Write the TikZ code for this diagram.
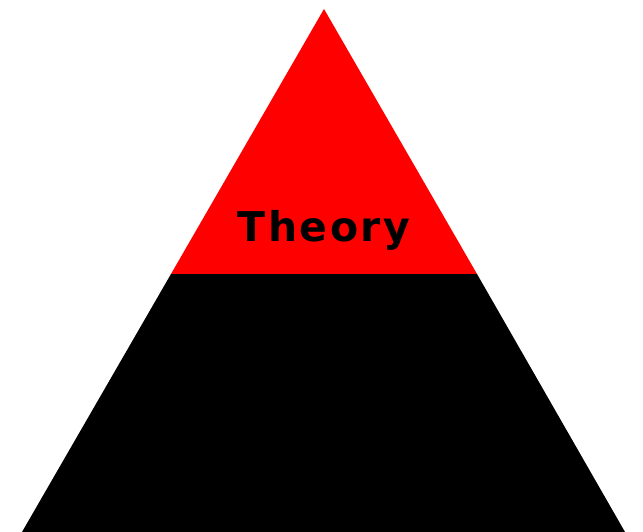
\documentclass[tikz,border=0pt]{standalone}
\usepackage{fontspec}
\newfontfamily\labelfont[LetterSpace=6]{DejaVu Sans}
\begin{document}
\begin{tikzpicture}[x=1pt,y=1pt,
  layer/.style={draw=none},
  lbl/.style={font=\labelfont\bfseries\fontsize{41}{41}\selectfont, text=black, inner sep=0pt, anchor=base}]
\useasboundingbox (0,0) rectangle (643,532);
\coordinate (apex) at (324,523);
\coordinate (bl) at (22,0);
\coordinate (br) at (625,0);
\coordinate (ml) at (171,258);
\coordinate (mr) at (477,258);
\fill[layer, black] (bl) -- (br) -- (mr) -- (ml) -- cycle;
\fill[layer, red] (ml) -- (mr) -- (apex) -- cycle;
\node[lbl] (theory) at (324,290) {Theory};
\end{tikzpicture}
\end{document}
